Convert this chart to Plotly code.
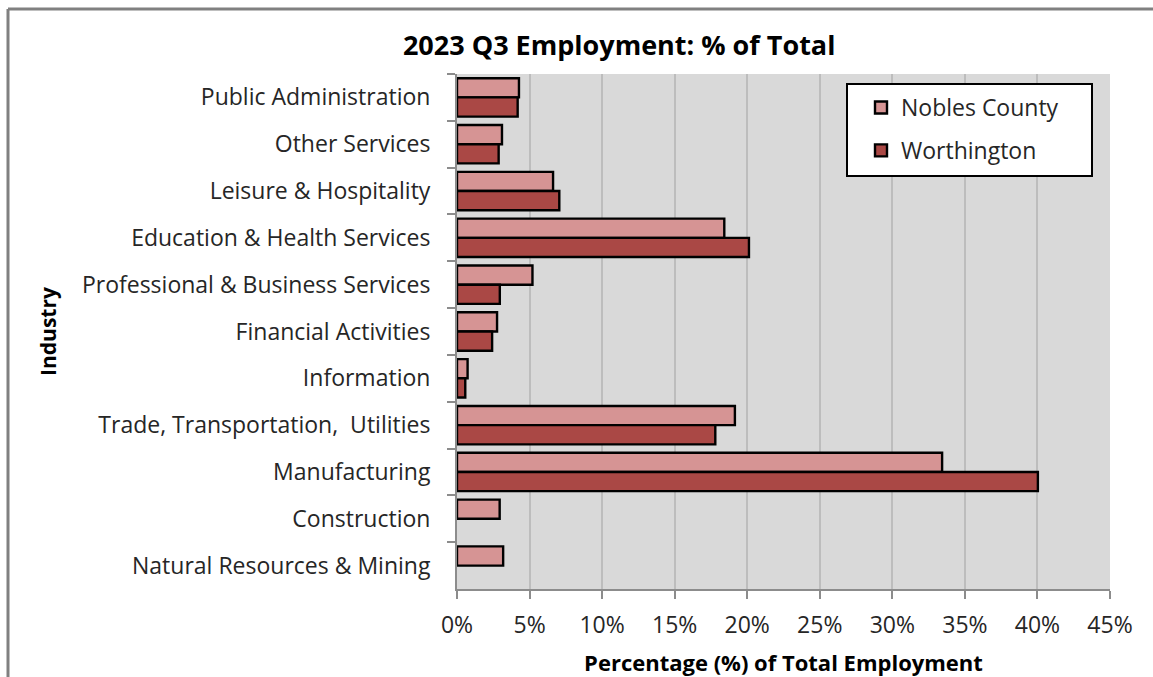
import plotly.graph_objects as go

# Industry sectors, listed top to bottom
industries = [
    "Public Administration",
    "Other Services",
    "Leisure & Hospitality",
    "Education & Health Services",
    "Professional & Business Services",
    "Financial Activities",
    "Information",
    "Trade, Transportation,  Utilities",
    "Manufacturing",
    "Construction",
    "Natural Resources & Mining",
]

# Share of total employment (%), 2023 Q3
nobles_county = [4.27, 3.10, 6.62, 18.42, 5.20, 2.76, 0.73, 19.15, 33.43, 2.94, 3.18]
worthington = [4.18, 2.87, 7.05, 20.12, 2.95, 2.42, 0.57, 17.80, 40.03, None, None]

x_ticks = [0, 5, 10, 15, 20, 25, 30, 35, 40, 45]
x_tick_labels = [f"{v}%" for v in x_ticks]

FONT = "'Open Sans', Lato, sans-serif"
TEXT = "#262626"

# plot area in pixels: x 457..1110, y 74..589
W, H = 1153, 677
ML, MR, MT, MB = 457, 43, 74, 88
PW, PH = W - ML - MR, H - MT - MB


def px_x(p):
    return (p - ML) / PW


def px_y(p):
    return (H - MB - p) / PH


fig = go.Figure()
fig.add_trace(go.Bar(
    name="Nobles County", y=industries, x=nobles_county, orientation="h",
    legendgroup="a",
    marker=dict(color="#D69494", line=dict(color="#000000", width=2.4)),
))
fig.add_trace(go.Bar(
    name="Worthington", y=industries, x=worthington, orientation="h",
    legendgroup="b",
    marker=dict(color="#AA4845", line=dict(color="#000000", width=2.4)),
))

fig.update_layout(
    width=W, height=H,
    margin=dict(l=ML, r=MR, t=MT, b=MB, autoexpand=False),
    paper_bgcolor="#FFFFFF",
    plot_bgcolor="#D9D9D9",
    barmode="group",
    bargap=0.18, bargroupgap=0.0,
    font=dict(family=FONT, size=23, color=TEXT),
    title=dict(
        text="<b>2023 Q3 Employment: % of Total</b>",
        x=0.537, xanchor="center", y=0.933, yanchor="middle",
        font=dict(family=FONT, size=27, color="#000000"),
    ),
    legend=dict(
        x=px_x(861), xanchor="left", y=px_y(86), yanchor="top",
        bgcolor="rgba(0,0,0,0)", borderwidth=0,
        font=dict(family=FONT, size=23, color=TEXT),
        tracegroupgap=10,
    ),
    shapes=[
        # legend frame
        dict(type="rect", xref="paper", yref="paper", layer="above",
             x0=px_x(847), x1=px_x(1092), y0=px_y(84), y1=px_y(176),
             fillcolor="#FFFFFF", line=dict(color="#000000", width=2)),
        # outer chart frame
        dict(type="line", xref="paper", yref="paper",
             x0=px_x(8), x1=px_x(1160), y0=px_y(9), y1=px_y(9),
             line=dict(color="#808080", width=3)),
        dict(type="line", xref="paper", yref="paper",
             x0=px_x(8), x1=px_x(8), y0=px_y(690), y1=px_y(9),
             line=dict(color="#808080", width=3)),
    ],
)

fig.update_xaxes(
    automargin=False,
    range=[0, 45], tickvals=x_ticks, ticktext=x_tick_labels,
    showgrid=True, gridcolor="#BDBDBD", gridwidth=2,
    showline=True, linecolor="#8C8C8C", linewidth=2,
    ticks="outside", ticklen=8, tickcolor="#8C8C8C", tickwidth=2,
    ticklabelstandoff=6,
    tickfont=dict(family=FONT, size=23, color=TEXT),
    zeroline=False,
    title=dict(text="<b>Percentage (%) of Total Employment</b>",
               font=dict(family=FONT, size=22, color="#000000"), standoff=19),
)
fig.update_yaxes(
    automargin=False,
    autorange="reversed",
    showgrid=False,
    showline=True, linecolor="#8C8C8C", linewidth=2,
    ticks="outside", ticklen=8, tickcolor="#8C8C8C", tickwidth=2,
    tickson="boundaries",
    ticklabelstandoff=20,
    tickfont=dict(family=FONT, size=23, color=TEXT),
    title=dict(text="<b>Industry</b>",
               font=dict(family=FONT, size=21, color="#000000"), standoff=20),
)

fig.write_html("out.html")
